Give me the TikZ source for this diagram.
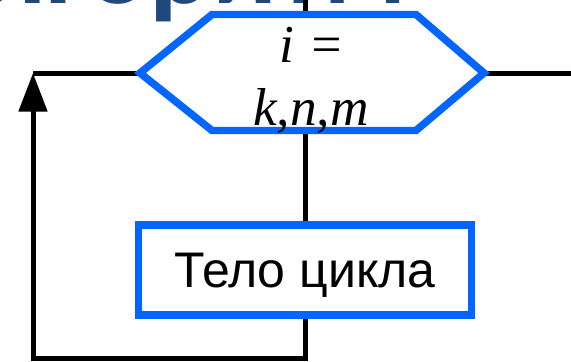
\documentclass[tikz,border=0pt]{standalone}
\usepackage{fontspec}
\setmainfont{Liberation Serif}
\newfontfamily\arialf{Liberation Sans}
\newfontfamily\titlef{Carlito}
\usetikzlibrary{arrows.meta}
\definecolor{flowblue}{RGB}{0,102,255}
\definecolor{titleblue}{RGB}{31,73,125}
\begin{document}
\begin{tikzpicture}[x=0.75pt,y=-0.75pt,
  flowline/.style={line width=3.75pt, draw=black},
  flowshape/.style={draw=flowblue, line width=5.6pt},
  hexlabel/.style={font=\itshape\fontsize{40}{44}\selectfont, inner sep=0pt},
  bodytext/.style={font=\arialf\fontsize{37.5}{40}\selectfont}]
\useasboundingbox (0,0) rectangle (571,361);
\clip (0,0) rectangle (571,361);
% title fragment
\node[font=\titlef\bfseries\fontsize{88}{90}\selectfont, text=titleblue, anchor=base east, inner sep=0pt] (title) at (407,3) {Алгоритм};
% hexagon corners
\coordinate (hw) at (140,73);
\coordinate (hnw) at (212,14.5);
\coordinate (hne) at (416,14.5);
\coordinate (he) at (484,73);
\coordinate (hse) at (416,130.5);
\coordinate (hsw) at (212,130.5);
\coordinate (htop) at (305,14.5);
\coordinate (hbot) at (305,130.5);
% free ends and corners
\coordinate (topend) at (305,-10);
\coordinate (rightend) at (580,73);
\coordinate (loopbr) at (305,358);
\coordinate (loopbl) at (33,358);
\coordinate (loopcorner) at (33,73);
% body
\node[flowshape, fill=white, minimum width=249.75pt, minimum height=67.5pt, inner sep=0pt, text depth=0pt, bodytext] (body) at (305,270) {Тело цикла};
% connectors
\draw[flowline] (htop) -- (topend);
\draw[flowline] (hbot) -- (body.north);
\draw[flowline] (he) -- (rightend);
\draw[flowline, -{Triangle[length=29pt,width=21pt]}] (body.south) -- (loopbr) -- (loopbl) -- (loopcorner);
\draw[flowline] (loopcorner) -- (hw);
% hexagon
\draw[flowshape, fill=white] (hw) -- (hnw) -- (hne) -- (he) -- (hse) -- (hsw) -- cycle;
\node[hexlabel, anchor=base] (lbl1) at (312,62) {i =};
\node[hexlabel, anchor=base] (lbl2) at (311,125) {k,n,m};
% redraw body on top
\node[flowshape, fill=white, minimum width=249.75pt, minimum height=67.5pt, inner sep=0pt, text depth=0pt, bodytext] at (305,270) {Тело цикла};
\end{tikzpicture}
\end{document}
